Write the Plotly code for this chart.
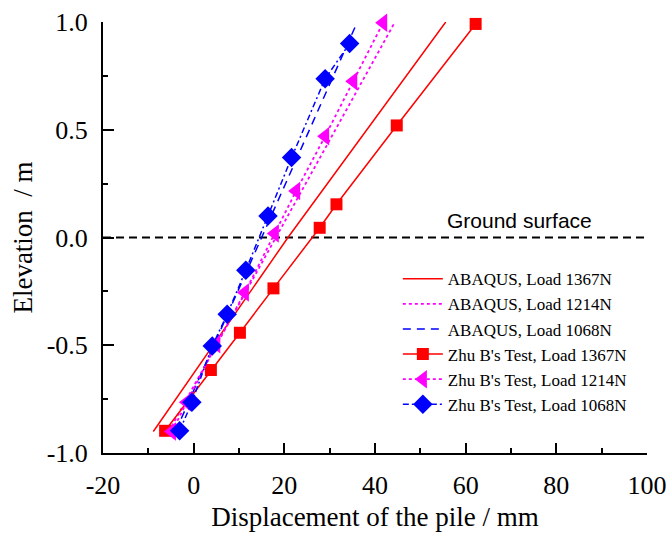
import plotly.graph_objects as go

# ABAQUS simulated curves (displacement mm, elevation m)
abq_1367_x = [-8.9, 20.8, 55.6]
abq_1367_y = [-0.90, 0.0, 1.0]
abq_1214_x = [-5.5, 18.2, 44.4]
abq_1214_y = [-0.90, 0.0, 1.0]
abq_1068_x = [-4.0, 15.0, 36.1]
abq_1068_y = [-0.90, 0.0, 1.0]

# Zhu B's test data
test_1367_x = [-6.3, 3.8, 10.2, 17.6, 27.8, 31.5, 44.8, 62.2]
test_1367_y = [-0.897, -0.615, -0.442, -0.236, 0.045, 0.154, 0.52, 0.991]
test_1214_x = [-4.8, -1.5, 5.0, 11.3, 17.9, 22.6, 29.0, 35.2, 41.8]
test_1214_y = [-0.90, -0.765, -0.495, -0.255, 0.019, 0.216, 0.47, 0.725, 0.997]
test_1068_x = [-3.1, -0.4, 4.1, 7.4, 11.5, 16.4, 21.6, 29.0, 34.4]
test_1068_y = [-0.897, -0.765, -0.504, -0.356, -0.152, 0.10, 0.371, 0.737, 0.90]

ground_x = [-20, 100]
ground_y = [0, 0]

x_ticks = [-20, 0, 20, 40, 60, 80, 100]
y_ticks = [-1.0, -0.5, 0.0, 0.5, 1.0]

RED = "#FF0000"
MAG = "#FF00FF"
BLUE = "#0000FF"
SERIF = "Liberation Serif, Times New Roman, serif"

fig = go.Figure()
fig.add_trace(go.Scatter(x=ground_x, y=ground_y, mode="lines",
                         line=dict(color="black", width=1.8, dash="8px,5px"),
                         showlegend=False, hoverinfo="skip"))
fig.add_trace(go.Scatter(x=abq_1367_x, y=abq_1367_y, mode="lines", name="ABAQUS, Load 1367N",
                         line=dict(color=RED, width=1.5)))
fig.add_trace(go.Scatter(x=abq_1214_x, y=abq_1214_y, mode="lines", name="ABAQUS, Load 1214N",
                         line=dict(color=MAG, width=1.8, dash="dot")))
fig.add_trace(go.Scatter(x=abq_1068_x, y=abq_1068_y, mode="lines", name="ABAQUS, Load 1068N",
                         line=dict(color=BLUE, width=1.5, dash="8px,6px")))
fig.add_trace(go.Scatter(x=test_1367_x, y=test_1367_y, mode="lines+markers", name="Zhu B's Test, Load 1367N",
                         line=dict(color=RED, width=1.5),
                         marker=dict(symbol="square", size=12, color=RED), cliponaxis=False))
fig.add_trace(go.Scatter(x=test_1214_x, y=test_1214_y, mode="lines+markers", name="Zhu B's Test, Load 1214N",
                         line=dict(color=MAG, width=1.8, dash="dot"),
                         marker=dict(symbol="triangle-left", size=16, color=MAG), cliponaxis=False))
fig.add_trace(go.Scatter(x=test_1068_x, y=test_1068_y, mode="lines+markers", name="Zhu B's Test, Load 1068N",
                         line=dict(color=BLUE, width=1.5, dash="6px,3px,2px,3px"),
                         marker=dict(symbol="diamond", size=15, color=BLUE), cliponaxis=False))

fig.add_annotation(x=71.9, y=0.078, text="Ground surface", showarrow=False,
                   font=dict(family="Liberation Sans, Arial, sans-serif", size=21, color="black"))

axis_common = dict(showline=True, linecolor="black", linewidth=2, ticks="inside",
                   tickwidth=2, tickcolor="black", showgrid=False, zeroline=False, automargin=False,
                   tickfont=dict(family=SERIF, size=26, color="black"), mirror=False)

fig.update_xaxes(range=[-20, 100], tickvals=x_ticks, ticktext=[str(v) for v in x_ticks], ticklen=10,
                 minor=dict(ticks="inside", ticklen=5, tickwidth=2, tickcolor="black", dtick=10, tick0=-20),
                 title=dict(text="Displacement of the pile / mm", font=dict(family=SERIF, size=27, color="black"),
                            standoff=8),
                 ticklabelstandoff=8,
                 **axis_common)
fig.update_yaxes(range=[-1.0, 1.0], tickvals=y_ticks, ticktext=[f"{v:.1f}" for v in y_ticks], ticklen=11,
                 minor=dict(ticks="inside", ticklen=5, tickwidth=2, tickcolor="black", dtick=0.25, tick0=-1),
                 title=dict(text="Elevation  / m", font=dict(family=SERIF, size=27, color="black"),
                            standoff=6),
                 ticklabelstandoff=8,
                 **axis_common)

fig.update_layout(
    width=671, height=536,
    margin=dict(l=103, r=24, t=22, b=83),
    paper_bgcolor="white", plot_bgcolor="white",
    legend=dict(x=0.542, y=0.445, xanchor="left", yanchor="top", bgcolor="rgba(0,0,0,0)",
                font=dict(family=SERIF, size=17, color="black"), itemwidth=40,
                tracegroupgap=0),
)

fig.write_html("out.html")
